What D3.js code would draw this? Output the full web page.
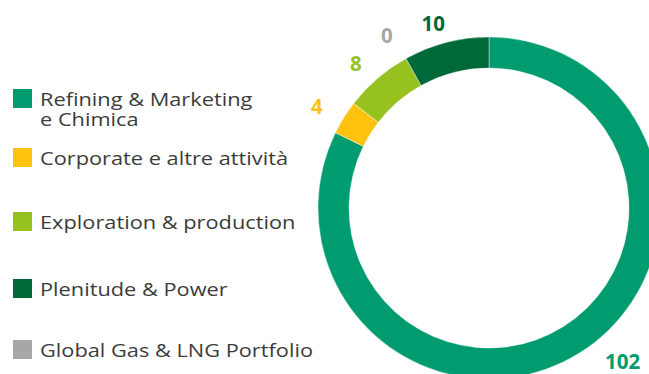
<!DOCTYPE html>
<html>
<head>
<meta charset="utf-8">
<script src="https://cdn.jsdelivr.net/npm/d3@7"></script>
<style>
  html, body { margin: 0; padding: 0; background: #fff; }
  svg { display: block; }
</style>
</head>
<body>
<svg id="chart" width="649" height="374"></svg>
<script>
// Segment names (legend order) and their values
const categories = [
  "Refining & Marketing e Chimica",
  "Corporate e altre attività",
  "Exploration & production",
  "Plenitude & Power",
  "Global Gas & LNG Portfolio"
];
const values = [102, 4, 8, 10, 0];
const colors = ["#009B6E", "#FFC20E", "#97C11F", "#00693A", "#A7A7A7"];

// Ring order, clockwise from 12 o'clock
const ringOrder = [0, 1, 2, 4, 3];

// Legend lines (wrapped text per category)
const legendLines = [
  ["Refining & Marketing", "e Chimica"],
  ["Corporate e altre attività"],
  ["Exploration & production"],
  ["Plenitude & Power"],
  ["Global Gas & LNG Portfolio"]
];

const svg = d3.select("#chart");
const cx = 489, cy = 208;
const outerR = 171, innerR = 140;

// Label placement around the ring: angular nudge (degrees) and radius per segment
const labelNudge = { 0: -9.2, 1: -1.4, 2: -1.9, 3: -2.3, 4: -1.5 };
const labelRadius = { 0: 203, 1: 200, 2: 197, 3: 193, 4: 201 };

const data = ringOrder.map(i => ({ idx: i, value: values[i] }));

const pie = d3.pie().sort(null).value(d => d.value)
  .startAngle(0).endAngle(2 * Math.PI);
const arcs = pie(data);

const arc = d3.arc().innerRadius(innerR).outerRadius(outerR);

const g = svg.append("g").attr("transform", `translate(${cx},${cy})`);

g.selectAll("path.slice")
  .data(arcs.filter(a => a.data.value > 0))
  .join("path")
  .attr("class", "slice")
  .attr("d", arc)
  .attr("fill", d => colors[d.data.idx])
  .attr("stroke", "#fff")
  .attr("stroke-width", 0.4);

// Value labels around the ring
g.selectAll("text.val")
  .data(arcs)
  .join("text")
  .attr("class", "val")
  .each(function(d) {
    const mid = (d.startAngle + d.endAngle) / 2 + (labelNudge[d.data.idx] || 0) * Math.PI / 180;
    const r = labelRadius[d.data.idx];
    d3.select(this)
      .attr("x", Math.sin(mid) * r)
      .attr("y", -Math.cos(mid) * r);
  })
  .attr("text-anchor", "middle")
  .attr("dominant-baseline", "central")
  .attr("font-family", "'Open Sans', sans-serif")
  .attr("font-weight", 700)
  .attr("font-size", 20.5)
  .attr("fill", d => colors[d.data.idx])
  .text(d => d.data.value);

// Legend: swatches plus wide-set labels (text stretched horizontally)
const legendTop = [89, 148, 212, 279, 340];
const legend = svg.append("g");
categories.forEach((c, i) => {
  const row = legend.append("g");
  row.append("rect")
    .attr("x", 13).attr("y", legendTop[i])
    .attr("width", 19).attr("height", 19)
    .attr("fill", colors[i]);
  const t = row.append("text")
    .attr("transform", `translate(40,0) scale(1.21,1)`)
    .attr("font-family", "'Open Sans', sans-serif")
    .attr("font-size", 18)
    .attr("fill", "#3c3c3c");
  legendLines[i].forEach((line, j) => {
    t.append("tspan")
      .attr("x", 0)
      .attr("y", legendTop[i] + 17 + j * 20.5)
      .text(line);
  });
});
</script>
</body>
</html>
